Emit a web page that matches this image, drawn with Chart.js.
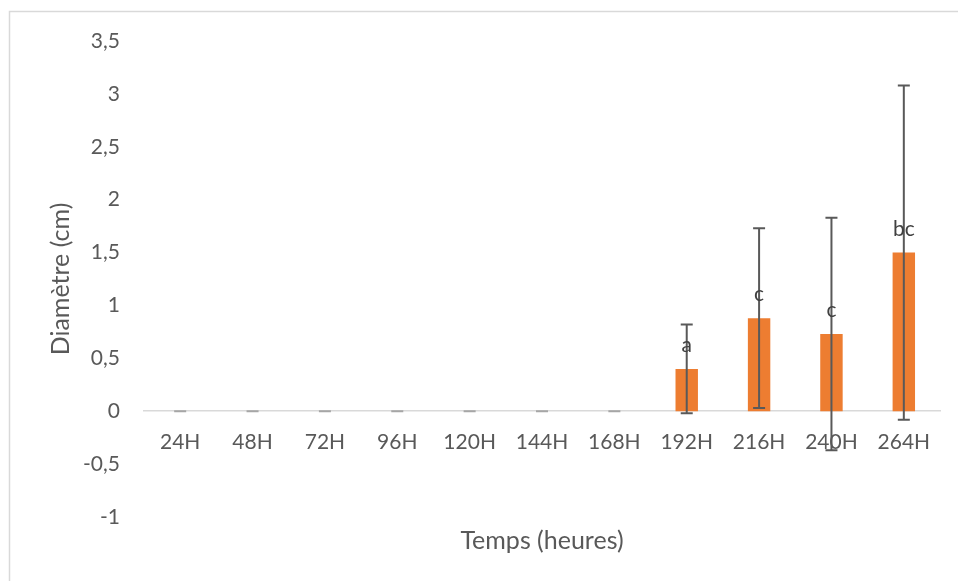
<!DOCTYPE html>
<html>
<head>
<meta charset="utf-8">
<script src="https://cdn.jsdelivr.net/npm/chart.js@4.4.1/dist/chart.umd.min.js"></script>
<style>
  html, body { margin: 0; padding: 0; background: #ffffff; }
  #wrap { position: relative; width: 958px; height: 581px; }
</style>
</head>
<body>
<div id="wrap"><canvas id="chart" width="958" height="581"></canvas></div>
<script>
// Lesion diameter over time (mean ± SD) with significance letters
const categories = ['24H', '48H', '72H', '96H', '120H', '144H', '168H', '192H', '216H', '240H', '264H'];
const diameters  = [0, 0, 0, 0, 0, 0, 0, 0.40, 0.88, 0.73, 1.50];
const deviations = [0, 0, 0, 0, 0, 0, 0, 0.42, 0.85, 1.10, 1.58];
const letters    = ['', '', '', '', '', '', '', 'a', 'c', 'c', 'bc'];
const yTicks     = [-1, -0.5, 0, 0.5, 1, 1.5, 2, 2.5, 3, 3.5];

const FONT = 'Lato, "Open Sans", sans-serif';
const TEXT = '#595959';

// Light frame around the chart area
const framePlugin = {
  id: 'frame',
  beforeDraw(chart) {
    const ctx = chart.ctx;
    ctx.save();
    ctx.strokeStyle = '#d9d9d9';
    ctx.lineWidth = 1.5;
    ctx.strokeRect(9.5, 11.5, 2000, 2000);
    ctx.restore();
  }
};

// Error bars and letter labels above each bar
const errorPlugin = {
  id: 'errorBars',
  afterDatasetsDraw(chart) {
    const ctx = chart.ctx;
    const x = chart.scales.x, y = chart.scales.y;
    const meta = chart.getDatasetMeta(0);
    ctx.save();
    meta.data.forEach((bar, i) => {
      const cx = x.getPixelForValue(i);
      const hi = y.getPixelForValue(diameters[i] + deviations[i]);
      const lo = y.getPixelForValue(diameters[i] - deviations[i]);
      const cap = 6;
      ctx.strokeStyle = deviations[i] > 0 ? '#595959' : '#a6a6a6';
      ctx.lineWidth = 2;
      ctx.beginPath();
      ctx.moveTo(cx, hi); ctx.lineTo(cx, lo);
      ctx.moveTo(cx - cap, hi); ctx.lineTo(cx + cap, hi);
      ctx.moveTo(cx - cap, lo); ctx.lineTo(cx + cap, lo);
      ctx.stroke();
    });
    ctx.fillStyle = '#404040';
    ctx.font = '21px ' + FONT;
    ctx.textAlign = 'center';
    ctx.textBaseline = 'alphabetic';
    meta.data.forEach((bar, i) => {
      if (!letters[i]) return;
      const top = y.getPixelForValue(diameters[i]);
      ctx.fillText(letters[i], x.getPixelForValue(i), top - 17);
    });
    ctx.restore();
  }
};

new Chart(document.getElementById('chart'), {
  type: 'bar',
  data: {
    labels: categories,
    datasets: [{
      data: diameters,
      backgroundColor: '#ED7D31',
      categoryPercentage: 1,
      barPercentage: 0.31
    }]
  },
  options: {
    responsive: false,
    animation: false,
    layout: { padding: { left: 40, right: 18, top: 41, bottom: 0 } },
    plugins: {
      legend: { display: false },
      tooltip: { enabled: false },
      title: {
        display: true,
        position: 'bottom',
        fullSize: false,
        text: 'Temps (heures)',
        color: TEXT,
        font: { family: FONT, size: 25, weight: 'normal', lineHeight: 1.2 },
        padding: { top: 9, bottom: 25 }
      }
    },
    scales: {
      x: {
        position: { y: 0 },
        grid: { display: false, drawTicks: false },
        border: { display: true, color: '#d9d9d9', width: 1.5 },
        ticks: {
          color: TEXT,
          font: { family: FONT, size: 21 },
          padding: 18,
          maxRotation: 0,
          autoSkip: false
        }
      },
      y: {
        min: -1,
        max: 3.5,
        afterBuildTicks(axis) { axis.ticks = yTicks.map(v => ({ value: v })); },
        afterFit(axis) { axis.width = 104; },
        grid: { display: false, drawTicks: false },
        border: { display: false },
        ticks: {
          color: TEXT,
          font: { family: FONT, size: 21 },
          padding: 24,
          callback: v => String(v).replace('.', ',')
        },
        title: {
          display: true,
          text: 'Diamètre (cm)',
          color: TEXT,
          font: { family: FONT, size: 25, lineHeight: 1.2 },
          padding: { top: 6, bottom: 0 }
        }
      }
    }
  },
  plugins: [framePlugin, errorPlugin]
});
</script>
</body>
</html>
